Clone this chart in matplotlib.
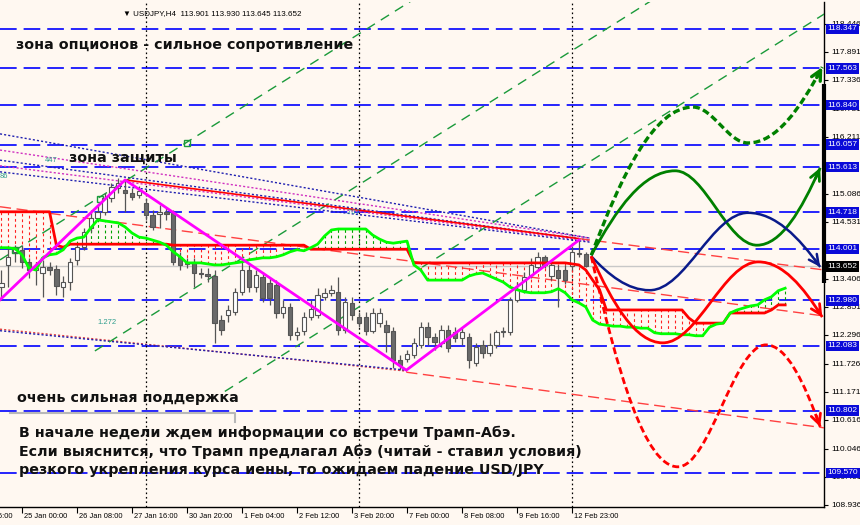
import matplotlib
matplotlib.use("Agg")
import matplotlib.pyplot as plt
from matplotlib.path import Path
from matplotlib.patches import PathPatch, Rectangle
import matplotlib.transforms as mtransforms

plt.rcParams['lines.scale_dashes'] = False
plt.rcParams['font.family'] = ['DejaVu Sans']

# ---------------- data ----------------
opens = [113.25, 113.68, 113.94, 113.98, 113.74, 113.58, 113.52, 113.64, 113.60, 113.25,
         113.34, 113.78, 114.04, 114.41, 114.61, 114.73, 115.00, 115.20, 115.16, 115.10,
         115.06, 114.90, 114.67, 114.69, 114.73, 114.71, 113.84, 113.72, 113.72, 113.52,
         113.50, 113.46, 112.59, 112.69, 112.75, 113.15, 113.58, 113.25, 113.44, 113.33,
         113.29, 112.73, 112.85, 112.29, 112.37, 112.65, 112.69, 113.05, 113.13, 113.15,
         112.39, 112.93, 112.65, 112.65, 112.37, 112.53, 112.49, 112.37, 111.80, 111.82,
         111.90, 112.10, 112.45, 112.26, 112.14, 112.39, 112.35, 112.24, 112.26, 111.74,
         112.10, 111.94, 112.10, 112.35, 112.35, 112.99, 113.19, 113.48, 113.64, 113.84,
         113.46, 113.58, 113.58, 113.66, 113.90, 113.901]
highs = [113.58, 114.02, 114.08, 114.08, 113.82, 113.74, 113.78, 113.74, 113.68, 113.46,
         113.82, 114.11, 114.41, 114.77, 114.86, 115.10, 115.30, 115.40, 115.36, 115.20,
         115.24, 115.00, 114.77, 114.86, 114.81, 114.77, 113.94, 113.82, 113.82, 113.62,
         113.62, 113.58, 112.69, 112.89, 113.23, 113.74, 113.68, 113.58, 113.54, 113.42,
         113.38, 112.99, 112.93, 112.45, 112.75, 112.99, 113.23, 113.23, 113.29, 113.44,
         113.05, 113.05, 112.75, 112.75, 112.83, 112.83, 112.59, 112.45, 111.90, 112.00,
         112.24, 112.55, 112.55, 112.33, 112.49, 112.49, 112.45, 112.43, 112.33, 112.14,
         112.20, 112.33, 112.39, 112.45, 113.05, 113.34, 113.54, 113.82, 113.94, 113.88,
         113.78, 113.68, 113.68, 114.06, 114.17, 113.930]
lows = [112.99, 113.25, 113.74, 113.62, 113.42, 113.29, 113.05, 113.48, 113.09, 113.05,
        113.19, 113.68, 113.98, 114.33, 114.57, 114.67, 114.92, 115.10, 114.73, 114.96,
        115.00, 114.57, 114.37, 114.41, 114.57, 113.68, 113.58, 113.62, 113.25, 113.42,
        113.34, 112.14, 112.29, 112.55, 112.69, 113.09, 113.15, 113.15, 112.95, 112.89,
        112.63, 112.63, 112.20, 112.20, 112.29, 112.59, 112.63, 112.99, 113.07, 112.29,
        112.33, 112.59, 112.45, 112.29, 112.33, 112.45, 111.96, 111.64, 111.60, 111.76,
        111.84, 112.04, 112.10, 112.00, 112.06, 111.96, 112.16, 112.10, 111.64, 111.68,
        111.84, 111.88, 112.04, 112.26, 112.29, 112.95, 113.13, 113.42, 113.58, 113.62,
        113.38, 112.85, 113.31, 113.58, 113.84, 113.645]
closes = [113.33, 113.84, 114.00, 113.74, 113.58, 113.62, 113.64, 113.58, 113.27, 113.34,
          113.74, 114.04, 114.33, 114.61, 114.73, 115.00, 115.22, 115.30, 115.10, 115.02,
          115.14, 114.67, 114.43, 114.73, 114.69, 113.74, 113.68, 113.70, 113.52, 113.50,
          113.46, 112.53, 112.39, 112.79, 113.15, 113.58, 113.25, 113.48, 113.03, 113.03,
          112.73, 112.85, 112.29, 112.35, 112.65, 112.81, 113.09, 113.13, 113.19, 112.39,
          112.95, 112.69, 112.53, 112.37, 112.73, 112.73, 112.35, 111.80, 111.70, 111.92,
          112.14, 112.45, 112.26, 112.16, 112.39, 112.04, 112.24, 112.35, 111.80, 112.06,
          111.94, 112.10, 112.35, 112.37, 112.99, 113.21, 113.44, 113.68, 113.84, 113.68,
          113.68, 113.42, 113.38, 113.94, 113.91, 113.652]

# Ichimoku senkou spans (bar index 0..114, shifted into the future)
span_a = [114.02, 114.02, 114.00, 113.88, 113.62, 113.58, 113.82, 113.88, 113.90, 113.98,
          114.15, 114.21, 114.23, 114.41, 114.57, 114.55, 114.53, 114.51, 114.43, 114.31,
          114.23, 114.21, 114.17, 114.13, 114.07, 113.94, 113.84, 113.72, 113.72, 113.72,
          113.70, 113.68, 113.68, 113.70, 113.72, 113.74, 113.78, 113.80, 113.82, 113.82,
          113.84, 113.88, 113.94, 113.98, 113.96, 114.02, 114.09, 114.25, 114.37, 114.39,
          114.39, 114.39, 114.39, 114.39, 114.27, 114.19, 114.13, 114.11, 114.13, 114.15,
          113.68, 113.58, 113.38, 113.38, 113.38, 113.38, 113.38, 113.38, 113.46, 113.50,
          113.52, 113.46, 113.40, 113.34, 113.24, 113.19, 113.15, 113.13, 113.13, 113.13,
          113.15, 113.21, 113.13, 112.99, 112.93, 112.85, 112.59, 112.51, 112.49, 112.47,
          112.47, 112.45, 112.45, 112.43, 112.43, 112.34, 112.32, 112.32, 112.32, 112.30,
          112.30, 112.28, 112.28, 112.45, 112.51, 112.53, 112.73, 112.79, 112.83, 112.87,
          112.89, 112.99, 113.05, 113.17, 113.22]
span_b = [114.73, 114.73, 114.73, 114.73, 114.73, 114.73, 114.73, 114.73, 114.07, 114.03,
          114.09, 114.09, 114.09, 114.09, 114.09, 114.09, 114.09, 114.09, 114.09, 114.09,
          114.09, 114.09, 114.09, 114.09, 114.09, 114.07, 114.07, 114.07, 114.07, 114.07,
          114.07, 114.07, 114.07, 114.07, 114.07, 114.07, 114.07, 114.07, 114.07, 114.07,
          114.07, 114.07, 114.07, 114.07, 114.07, 113.99, 113.99, 113.99, 113.99, 113.99,
          113.99, 113.99, 113.99, 113.99, 113.99, 113.99, 113.99, 113.99, 113.99, 113.99,
          113.72, 113.72, 113.72, 113.72, 113.72, 113.72, 113.72, 113.72, 113.72, 113.72,
          113.72, 113.72, 113.72, 113.72, 113.72, 113.72, 113.72, 113.72, 113.72, 113.72,
          113.72, 113.72, 113.72, 113.70, 113.68, 113.58, 113.38, 113.19, 112.79, 112.79,
          112.79, 112.79, 112.79, 112.79, 112.79, 112.79, 112.79, 112.79, 112.79, 112.79,
          112.63, 112.53, 112.53, 112.53, 112.53, 112.53, 112.73, 112.73, 112.73, 112.73,
          112.73, 112.73, 112.79, 112.89, 112.89]

# horizontal levels and price axis
levels = [118.347, 117.563, 116.840, 116.057, 115.613, 114.718, 114.001,
          112.980, 112.083, 110.802, 109.570]
last_price = 113.652
price_ticks = [118.446, 117.891, 117.336, 116.781, 116.211, 115.086, 114.531,
               113.406, 112.851, 112.296, 111.726, 111.171, 110.616, 110.046,
               109.491, 108.936]
time_tick_bars = [-5, 3, 11, 19, 27, 35, 43, 51, 59, 67, 75, 83]
time_tick_labels = ['23 Jan 16:00', '25 Jan 00:00', '26 Jan 08:00', '27 Jan 16:00',
                    '30 Jan 20:00', '1 Feb 04:00', '2 Feb 12:00', '3 Feb 20:00',
                    '7 Feb 00:00', '8 Feb 08:00', '9 Feb 16:00', '12 Feb 23:00']
separator_bars = [21, 52, 83]

# drawn objects (bar index, price)
zigzag_x = [-0.2, 18, 58.9, 84]
zigzag_y = [112.99, 115.36, 111.60, 114.17]
green_channel = [((-0.2, 113.78), (60.0, 118.93)),
                 ((13.6, 111.98), (94.5, 118.90)),
                 ((32.5, 111.18), (119.7, 118.64))]
channel_marks_x = [2.0, 14.3, 27.0]
channel_marks_y = [113.97, 114.99, 116.08]
fan_upper = [((-0.2, 116.27), (85.6, 114.21), '#1F1FB0'),
             ((-0.2, 115.95), (85.6, 114.21), '#D030C0'),
             ((-0.2, 115.75), (85.6, 114.17), '#1F1FB0'),
             ((-0.2, 115.64), (85.6, 114.15), '#D030C0'),
             ((-0.2, 115.52), (85.6, 114.13), '#1F1FB0')]
fan_lower = [((-0.2, 112.41), (59.0, 111.58), '#E04040'),
             ((-0.2, 112.38), (59.0, 111.60), '#1F1FB0')]
red_line_a = ((18.0, 115.36), (84.0, 114.20), (119.7, 113.58))
red_line_b = ((-0.2, 114.83), (119.7, 112.67))
red_line_c = ((58.9, 111.56), (119.7, 110.46))

forecasts = [
    ([(85.8, 113.87), (100.6, 116.80), (108.6, 116.09), (119.4, 117.59)], '#008000', 'dashed', 2.4),
    ([(85.8, 113.87), (98.0, 115.54), (109.9, 114.07), (119.1, 115.60)], '#008000', 'solid', 2.0),
    ([(85.8, 113.85), (94.3, 113.18), (108.6, 114.71), (119.1, 113.64)], '#0A1A8A', 'solid', 1.8),
    ([(85.8, 113.85), (96.2, 112.14), (110.1, 113.74), (119.4, 112.65)], '#FF0000', 'solid', 2.0),
    ([(85.8, 113.85), (98.4, 109.69), (111.2, 112.10), (119.1, 110.48)], '#FF0000', 'dashed', 2.0),
]

header = '\u25BC USDJPY,H4  113.901 113.930 113.645 113.652'
txt_resist = 'зона опционов - сильное сопротивление'
txt_protect = 'зона защиты'
txt_support = 'очень сильная поддержка'
txt_lines = ['В начале недели ждем информации со встречи Трамп-Абэ.',
             'Если выяснится, что Трамп предлагал Абэ (читай - ставил условия)',
             'резкого укрепления курса иены, то ожидаем падение USD/JPY']
fib_labels = [('447', 45, 160), ('86', 0, 177), ('.707', 345, 213), ('1.272', 97, 322)]

# ---------------- figure ----------------
BG = '#FFF8F1'
W, H = 860, 525
AX_L, AX_R, AX_T, AX_B = 0, 824, 2, 507
fig = plt.figure(figsize=(W / 100, H / 100), dpi=100, facecolor=BG)
ax = fig.add_axes([AX_L / W, (H - AX_B) / H, (AX_R - AX_L) / W, (AX_B - AX_T) / H])
ax.set_facecolor(BG)
ax.set_xlim(-0.2, 119.65)
ax.set_ylim(108.896, 118.876)


def px(x, y):
    return ((x - AX_L) / (AX_R - AX_L), (AX_B - y) / (AX_B - AX_T))


# levels
for lv in levels:
    ax.axhline(lv, color='#0000FF', lw=1.2, dashes=(12, 5), zorder=2)
ax.axhline(last_price, color='#C8C8C8', lw=1.0, zorder=1.5)
for s in separator_bars:
    ax.axvline(s, color='black', lw=0.9, dashes=(1.2, 2.0), zorder=2)

# kumo hatch
for i in range(len(span_a)):
    lo, hi = sorted((span_a[i], span_b[i]))
    col = '#00A000' if span_a[i] >= span_b[i] else '#FF2020'
    ax.vlines(i, lo, hi, colors=col, lw=0.8, linestyles=(0, (2, 2)), zorder=2.5)

# fans and trend lines
for (p0, p1, c) in fan_upper + fan_lower:
    ax.plot([p0[0], p1[0]], [p0[1], p1[1]], color=c, lw=1.0, dashes=(1.5, 1.5), zorder=3)
for (p0, p1) in green_channel:
    ax.plot([p0[0], p1[0]], [p0[1], p1[1]], color='#1A9A3A', lw=1.0, dashes=(7, 5), zorder=3)
ax.plot(channel_marks_x, channel_marks_y, 's', mfc='none', mec='#1A9A3A', ms=4, mew=1, zorder=3)
ax.plot([red_line_a[0][0], red_line_a[1][0]], [red_line_a[0][1], red_line_a[1][1]],
        color='#FF0000', lw=1.2, zorder=3)
ax.plot([red_line_a[1][0], red_line_a[2][0]], [red_line_a[1][1], red_line_a[2][1]],
        color='#FF4040', lw=1.0, dashes=(8, 4), zorder=3)
ax.plot([red_line_b[0][0], red_line_b[1][0]], [red_line_b[0][1], red_line_b[1][1]],
        color='#FF4040', lw=1.0, dashes=(8, 4), zorder=3)
ax.plot([red_line_c[0][0], red_line_c[1][0]], [red_line_c[0][1], red_line_c[1][1]],
        color='#FF4040', lw=1.0, dashes=(8, 4), zorder=3)

# candles
for i, (o, h, l, c) in enumerate(zip(opens, highs, lows, closes)):
    ax.vlines(i, l, h, colors='#555555', lw=0.9, zorder=4)
    bottom = min(o, c)
    height = max(abs(c - o), 0.012)
    fc = 'white' if c >= o else '#6A6A6A'
    ax.add_patch(Rectangle((i - 0.32, bottom), 0.64, height, fc=fc, ec='#555555', lw=0.8, zorder=4.5))

# ichimoku lines
ax.plot(range(len(span_b)), span_b, color='#FF0000', lw=2.0, zorder=5)
ax.plot(range(len(span_a)), span_a, color='#00FF00', lw=2.0, zorder=5.2)

# zigzag
ax.plot(zigzag_x, zigzag_y, color='#FF00FF', lw=2.0, zorder=6)


# forecast curves
def wave_path(pts):
    verts = [pts[0]]
    codes = [Path.MOVETO]
    n = len(pts)
    c2 = pts[0]
    for k in range(n - 1):
        (x0, y0), (x1, y1) = pts[k], pts[k + 1]
        dx, dy = x1 - x0, y1 - y0
        if k == 0:
            c1 = (x0 + 0.3 * dx, y0 + 0.55 * dy)
            c2 = (x0 + 0.62 * dx, y1)
        elif k == n - 2:
            c1 = (x0 + 0.38 * dx, y0)
            c2 = (x0 + 0.7 * dx, y0 + 0.45 * dy)
        else:
            c1 = (x0 + 0.36 * dx, y0)
            c2 = (x1 - 0.36 * dx, y1)
        verts += [c1, c2, (x1, y1)]
        codes += [Path.CURVE4] * 3
    return Path(verts, codes), c2


for pts, col, ls, lw in forecasts:
    path, c2 = wave_path(pts)
    patch = PathPatch(path, fc='none', ec=col, lw=lw, zorder=7, capstyle='butt')
    if ls == 'dashed':
        patch.set_linestyle((0, (5, 2.5)))
    ax.add_patch(patch)
    tip = pts[-1]
    back = (tip[0] - 0.25 * (tip[0] - c2[0]), tip[1] - 0.25 * (tip[1] - c2[1]))
    ax.annotate('', xy=tip, xytext=back,
                arrowprops=dict(arrowstyle='->,head_length=0.7,head_width=0.35',
                                color=col, lw=lw, shrinkA=0, shrinkB=0), zorder=7)

# texts
big = dict(fontsize=10.3, fontweight='bold', color='#111111', va='center', ha='left',
           transform=ax.transAxes, zorder=9)
ax.text(*px(16, 45), txt_resist, **big)
ax.text(*px(69, 158), txt_protect, **big)
ax.text(*px(17, 398), txt_support, **big)
for k, t in enumerate(txt_lines):
    ax.text(*px(19, 433 + 18.5 * k), t, **big)
ax.plot([px(10, 413)[0], px(235, 413)[0], px(235, 422)[0]],
        [px(10, 413)[1], px(235, 413)[1], px(235, 422)[1]],
        color='#B8B8B8', lw=1.5, transform=ax.transAxes, zorder=8)
for t, x, y in fib_labels:
    ax.text(*px(x, y), t, fontsize=5.5, color='#2E9E8E', va='center', ha='left',
            transform=ax.transAxes, zorder=8, family=['Liberation Sans', 'DejaVu Sans'])
ax.text(*px(123, 14), header, fontsize=5.8, color='black', va='center', ha='left',
        transform=ax.transAxes, zorder=9, family=['Liberation Sans', 'DejaVu Sans'])

# axes styling
for side in ('left', 'top'):
    ax.spines[side].set_visible(False)
for side in ('right', 'bottom'):
    ax.spines[side].set_color('black')
    ax.spines[side].set_linewidth(1.0)
ax.yaxis.tick_right()
ax.set_yticks(price_ticks)
ax.set_yticklabels([f'{v:.3f}' for v in price_ticks], fontsize=6,
                   family=['Liberation Sans', 'DejaVu Sans'])
ax.tick_params(axis='y', length=3, width=0.8, pad=2, colors='black')
ax.set_xticks([b for b in time_tick_bars if b >= -0.2])
ax.set_xticklabels([])
ax.tick_params(axis='x', length=4, width=0.8, colors='black')
for b, lab in zip(time_tick_bars, time_tick_labels):
    ax.annotate(lab, xy=(b, 0), xycoords=('data', 'axes fraction'), xytext=(1.5, -4.5),
                textcoords='offset points', ha='left', va='top', fontsize=5.4,
                family=['Liberation Sans', 'DejaVu Sans'], annotation_clip=False)

blend = mtransforms.blended_transform_factory(ax.transAxes, ax.transData)
ax.plot([1.0, 1.0], [117.26, 113.32], transform=blend, color='black', lw=3,
        solid_capstyle='butt', clip_on=False, zorder=10)
for lv in levels:
    ax.text(1.004, lv, f'{lv:.3f}', transform=blend, color='white', fontsize=6,
            va='center', ha='left', family=['Liberation Sans', 'DejaVu Sans'],
            bbox=dict(boxstyle='square,pad=0.2', fc='#0A0AD8', ec='none'),
            clip_on=False, zorder=11)
ax.text(1.004, last_price, f'{last_price:.3f}', transform=blend, color='white', fontsize=6,
        va='center', ha='left', family=['Liberation Sans', 'DejaVu Sans'],
        bbox=dict(boxstyle='square,pad=0.2', fc='black', ec='none'),
        clip_on=False, zorder=11)

fig.savefig('out.png', dpi=100, facecolor=BG)
